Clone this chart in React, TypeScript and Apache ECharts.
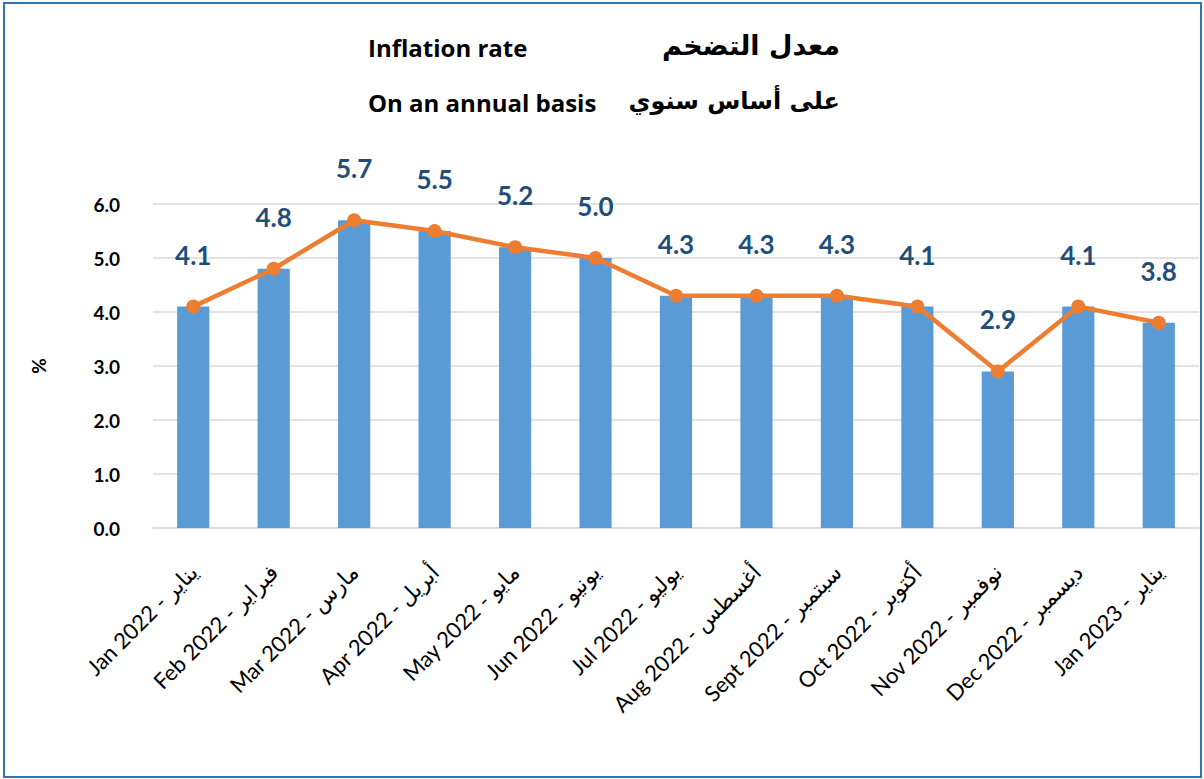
import React, { useEffect, useRef } from "react";
import * as echarts from "echarts";

const categories = [
  "Jan 2022 - يناير",
  "Feb 2022 - فبراير",
  "Mar 2022 - مارس",
  "Apr 2022 - أبريل",
  "May 2022 - مايو",
  "Jun 2022 - يونيو",
  "Jul 2022 - يوليو",
  "Aug 2022 - أغسطس",
  "Sept 2022 - سبتمبر",
  "Oct 2022 - أكتوبر",
  "Nov 2022 - نوفمبر",
  "Dec 2022 - ديسمبر",
  "Jan 2023 - يناير",
];
const inflation = [4.1, 4.8, 5.7, 5.5, 5.2, 5.0, 4.3, 4.3, 4.3, 4.1, 2.9, 4.1, 3.8];

const titleEn1 = "Inflation rate";
const titleAr1 = "معدل التضخم";
const titleEn2 = "On an annual basis";
const titleAr2 = "على أساس سنوي";

export default function App() {
  const ref = useRef<HTMLDivElement>(null);
  useEffect(() => {
    const chart = echarts.init(ref.current!, undefined, { renderer: "svg" });
    const font = "Lato, 'DejaVu Sans', sans-serif";
    const enTitleFont = "'Open Sans', 'DejaVu Sans', sans-serif";
    const arFont = "'DejaVu Sans', sans-serif";
    const txt = (text: string, x: number, y: number, align: string, ff: string, size: number) => ({
      type: "text",
      x,
      y,
      style: {
        text,
        fontFamily: ff,
        fontSize: size,
        fontWeight: 700,
        fill: "#000",
        verticalAlign: "middle",
        align,
      },
    });
    chart.setOption({
      animation: false,
      backgroundColor: "#ffffff",
      textStyle: { fontFamily: font },
      grid: { left: 153, right: 5, top: 204, bottom: 251, containLabel: false },
      graphic: [
        {
          type: "rect",
          shape: { x: 4, y: 3, width: 1197, height: 774 },
          style: { fill: "none", stroke: "#2E75B6", lineWidth: 2 },
          silent: true,
        },
        txt(titleEn1, 368, 47, "left", enTitleFont, 24),
        txt(titleAr1, 840, 45, "right", arFont, 27),
        txt(titleEn2, 368, 102, "left", enTitleFont, 24),
        txt(titleAr2, 840, 101, "right", arFont, 24),
      ],
      xAxis: {
        type: "category",
        data: categories,
        axisLine: { lineStyle: { color: "#D9D9D9", width: 1.5 } },
        axisTick: { show: false },
        axisLabel: {
          rotate: 45,
          interval: 0,
          color: "#000",
          fontSize: 22,
          fontWeight: "normal",
          margin: 40,
          fontFamily: font,
        },
      },
      yAxis: {
        type: "value",
        min: 0,
        max: 6,
        interval: 1,
        name: "%",
        nameLocation: "middle",
        nameGap: 105,
        nameRotate: 90,
        nameTextStyle: { color: "#000", fontSize: 19, fontWeight: "bold", fontFamily: font },
        axisLine: { show: false },
        axisTick: { show: false },
        splitLine: { lineStyle: { color: "#D9D9D9", width: 1.5 } },
        axisLabel: {
          color: "#000",
          fontSize: 19,
          fontWeight: "bold",
          margin: 33,
          formatter: (v: number) => v.toFixed(1),
          fontFamily: font,
        },
      },
      series: [
        {
          type: "bar",
          data: inflation,
          barWidth: "40%",
          itemStyle: { color: "#5B9BD5" },
        },
        {
          type: "line",
          data: inflation,
          symbol: "circle",
          symbolSize: 14,
          lineStyle: { color: "#ED7D31", width: 4.5 },
          itemStyle: { color: "#ED7D31" },
          label: {
            show: true,
            position: "top",
            distance: 32,
            color: "#1F4E79",
            fontSize: 26,
            fontWeight: "bold",
            fontFamily: font,
            formatter: (p: any) => Number(p.value).toFixed(1),
          },
        },
      ],
    });
    return () => chart.dispose();
  }, []);
  return (
    <div
      ref={ref}
      style={{ position: "fixed", left: 0, top: 0, width: 1204, height: 779 }}
    />
  );
}
